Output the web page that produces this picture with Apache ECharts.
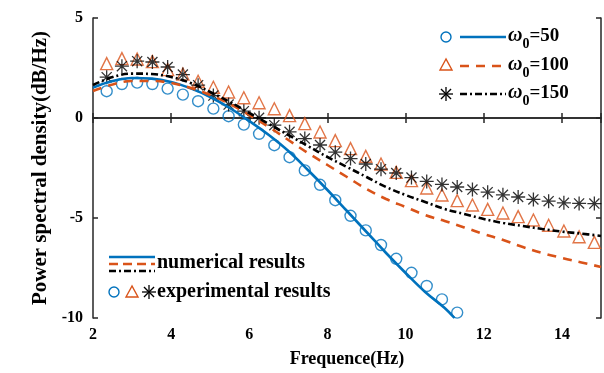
<!DOCTYPE html>
<html>
<head>
<meta charset="utf-8">
<title>Power spectral density</title>
<script src="https://cdn.jsdelivr.net/npm/echarts@6/dist/echarts.min.js"></script>
<style>
    html, body { margin: 0; padding: 0; background: #fff; }
    #main { width: 604px; height: 373px; }
</style>
</head>
<body>
<div id="main"></div>
<script type="text/javascript">
    // measured points (experimental), frequency in Hz
    var expX = [2.35, 2.74, 3.13, 3.52, 3.91, 4.30, 4.69, 5.08, 5.47, 5.86, 6.25, 6.64, 7.03, 7.42, 7.81, 8.20, 8.59,
                8.98, 9.37, 9.76, 10.15, 10.54, 10.93, 11.32, 11.71, 12.10, 12.49, 12.88, 13.27, 13.66, 14.05, 14.44, 14.83];
    var exp50 = [1.34, 1.70, 1.77, 1.70, 1.47, 1.17, 0.84, 0.47, 0.09, -0.33, -0.79, -1.36, -1.96, -2.62, -3.34, -4.11,
                 -4.89, -5.62, -6.35, -7.04, -7.74, -8.40, -9.07, -9.73];
    var exp100 = [2.72, 2.97, 2.95, 2.82, 2.42, 2.20, 1.84, 1.54, 1.30, 1.01, 0.76, 0.46, 0.12, -0.28, -0.70, -1.13,
                  -1.53, -1.92, -2.30, -2.72, -3.13, -3.50, -3.85, -4.13, -4.35, -4.57, -4.75, -4.93, -5.10, -5.36, -5.65, -5.94, -6.22];
    var exp150 = [2.04, 2.59, 2.84, 2.80, 2.55, 2.17, 1.64, 1.12, 0.67, 0.34, 0.01, -0.36, -0.69, -1.03, -1.35, -1.71,
                  -2.03, -2.30, -2.56, -2.75, -2.98, -3.17, -3.32, -3.45, -3.58, -3.71, -3.84, -3.95, -4.07, -4.16, -4.24, -4.27, -4.28];

    // numerical curves
    var numX = [2.0, 2.5, 3.0, 3.5, 4.0, 4.5, 5.0, 5.5, 6.0, 6.5, 7.0, 7.5, 8.0, 8.5, 9.0, 9.5, 10.0, 10.5, 11.0, 11.25];
    var num50 = [1.52, 1.85, 2.0, 1.97, 1.8, 1.48, 1.05, 0.5, -0.15, -0.85, -1.65, -2.6, -3.6, -4.65, -5.7, -6.75, -7.75, -8.7, -9.5, -10];
    var numX2 = [2.0, 2.5, 3.0, 3.5, 4.0, 4.5, 5.0, 5.5, 6.0, 6.5, 7.0, 7.5, 8.0, 8.5, 9.0, 9.5, 10.0, 10.5, 11.0, 11.5,
                 12.0, 12.5, 13.0, 13.5, 14.0, 14.5, 15.0];
    var num100 = [1.35, 1.68, 1.85, 1.85, 1.75, 1.5, 1.15, 0.7, 0.15, -0.45, -1.1, -1.75, -2.35, -2.95, -3.55, -4.05,
                  -4.45, -4.85, -5.15, -5.47, -5.8, -6.1, -6.45, -6.75, -7.0, -7.22, -7.45];
    var num150 = [1.65, 2.05, 2.22, 2.2, 2.05, 1.75, 1.3, 0.8, 0.25, -0.3, -0.85, -1.4, -1.95, -2.45, -2.95, -3.45,
                  -3.85, -4.2, -4.55, -4.8, -5.05, -5.25, -5.4, -5.55, -5.68, -5.78, -5.9];

    var xTicks = [2, 4, 6, 8, 10, 12, 14];
    var yTicks = [-10, -5, 0, 5];

    function pairs(xs, ys) {
        var out = [];
        for (var i = 0; i < ys.length; i++) {
            out.push([xs[i], ys[i]]);
        }
        return out;
    }

    var BLUE = '#0072BD', ORANGE = '#D95319', BLACK = '#000000';
    var FONT = '"Liberation Serif", "Times New Roman", serif';
    var STAR = 'path://M0,-1L0,1M-1,0L1,0M-0.72,-0.72L0.72,0.72M-0.72,0.72L0.72,-0.72';
    var axisColor = '#262626';

    // asterisk for the legend, made of 4 short lines
    function starLines(cx, cy, r) {
        var d = r * 0.72;
        var segs = [[0, -r, 0, r], [-r, 0, r, 0], [-d, -d, d, d], [-d, d, d, -d]];
        return segs.map(function (s) {
            return { type: 'line', shape: { x1: cx + s[0], y1: cy + s[1], x2: cx + s[2], y2: cy + s[3] },
                     style: { stroke: BLACK, lineWidth: 1.3 } };
        });
    }

    function omegaText(x, y, val) {
        return { type: 'text', x: x, y: y, style: {
            text: '{w|ω}{s|0}{t|=' + val + '}', verticalAlign: 'middle',
            rich: {
                w: { fontFamily: FONT, fontWeight: 'bold', fontStyle: 'italic', fontSize: 20 },
                s: { fontFamily: FONT, fontWeight: 'bold', fontSize: 14, padding: [17, 0, 0, 0] },
                t: { fontFamily: FONT, fontWeight: 'bold', fontSize: 19 }
            } } };
    }

    var myChart = echarts.init(document.getElementById('main'));

    var baseX = {
        type: 'value', min: 2, max: 15, interval: 2,
        axisLine: { lineStyle: { color: axisColor, width: 1.5 } },
        axisTick: { inside: true, length: 5, lineStyle: { color: axisColor, width: 1.5 } },
        splitLine: { show: false }
    };
    var baseY = {
        type: 'value', min: -10, max: 5, interval: 5,
        axisLine: { lineStyle: { color: axisColor, width: 1.5 } },
        axisTick: { inside: true, length: 5, lineStyle: { color: axisColor, width: 1.5 } },
        splitLine: { show: false }
    };

    var graphics = [
        // top right legend
        { type: 'circle', shape: { cx: 446, cy: 37, r: 5 }, style: { fill: 'none', stroke: BLUE, lineWidth: 1.4 } },
        { type: 'line', shape: { x1: 460, y1: 37, x2: 506, y2: 37 }, style: { stroke: BLUE, lineWidth: 2.6 } },
        omegaText(508, 36, '50'),
        { type: 'polygon', shape: { points: [[446, 59], [440, 70], [452, 70]] }, style: { fill: 'none', stroke: ORANGE, lineWidth: 1.4 } },
        { type: 'line', shape: { x1: 460, y1: 66, x2: 506, y2: 66 }, style: { stroke: ORANGE, lineWidth: 2.6, lineDash: [9, 7] } },
        omegaText(508, 65, '100'),
        { type: 'line', shape: { x1: 460, y1: 94, x2: 506, y2: 94 }, style: { stroke: BLACK, lineWidth: 2.6, lineDash: [7, 3, 2, 3] } },
        omegaText(508, 93, '150'),

        // bottom left legend
        { type: 'line', shape: { x1: 109, y1: 257, x2: 155, y2: 257 }, style: { stroke: BLUE, lineWidth: 2.6 } },
        { type: 'line', shape: { x1: 109, y1: 264, x2: 155, y2: 264 }, style: { stroke: ORANGE, lineWidth: 2.6, lineDash: [9, 5] } },
        { type: 'line', shape: { x1: 109, y1: 271, x2: 155, y2: 271 }, style: { stroke: BLACK, lineWidth: 2.6, lineDash: [7, 3, 2, 3] } },
        { type: 'text', x: 157, y: 263, style: { text: 'numerical results', fontFamily: FONT, fontWeight: 'bold', fontSize: 20, fill: '#000', verticalAlign: 'middle' } },
        { type: 'circle', shape: { cx: 114, cy: 292, r: 5 }, style: { fill: 'none', stroke: BLUE, lineWidth: 1.4 } },
        { type: 'polygon', shape: { points: [[132, 286], [126, 297], [138, 297]] }, style: { fill: 'none', stroke: ORANGE, lineWidth: 1.4 } },
        { type: 'text', x: 157, y: 292, style: { text: 'experimental results', fontFamily: FONT, fontWeight: 'bold', fontSize: 20, fill: '#000', verticalAlign: 'middle' } }
    ].concat(starLines(446, 94, 7), starLines(149, 292, 7));

    var option = {
        animation: false,
        grid: { left: 93, right: 3, top: 18, bottom: 55 },
        xAxis: [
            echarts.util.merge({
                position: 'bottom',
                name: 'Frequence(Hz)',
                nameLocation: 'middle',
                nameGap: 32,
                nameTextStyle: { fontFamily: FONT, fontWeight: 'bold', fontSize: 18, color: '#000' },
                axisLabel: {
                    fontFamily: FONT, fontWeight: 'bold', fontSize: 16, color: '#000', margin: 9,
                    formatter: function (v) { return xTicks.indexOf(v) >= 0 ? String(v) : ''; }
                }
            }, baseX, true),
            echarts.util.merge({ position: 'top', axisLabel: { show: false } }, baseX, true)
        ],
        yAxis: [
            echarts.util.merge({
                position: 'left',
                name: 'Power spectral density(dB/Hz)',
                nameLocation: 'middle',
                nameGap: 38,
                nameTextStyle: { fontFamily: FONT, fontWeight: 'bold', fontSize: 21, color: '#000' },
                axisLabel: {
                    fontFamily: FONT, fontWeight: 'bold', fontSize: 16, color: '#000', margin: 10,
                    formatter: function (v) { return yTicks.indexOf(v) >= 0 ? String(v) : ''; }
                }
            }, baseY, true),
            echarts.util.merge({ position: 'right', axisLabel: { show: false } }, baseY, true)
        ],
        series: [
            {
                name: 'num50', type: 'line', smooth: 0.4, showSymbol: false, clip: true,
                data: pairs(numX, num50),
                lineStyle: { color: BLUE, width: 2.6 }
            },
            {
                name: 'num100', type: 'line', smooth: 0.4, showSymbol: false, clip: true,
                data: pairs(numX2, num100),
                lineStyle: { color: ORANGE, width: 2.6, type: [9, 7] }
            },
            {
                name: 'num150', type: 'line', smooth: 0.4, showSymbol: false, clip: true,
                data: pairs(numX2, num150),
                lineStyle: { color: BLACK, width: 2.6, type: [7, 3, 2, 3] }
            },
            {
                name: 'exp50', type: 'scatter', symbol: 'circle', symbolSize: 11,
                data: pairs(expX, exp50),
                itemStyle: { color: 'rgba(0,0,0,0)', borderColor: BLUE, borderWidth: 1.4 }
            },
            {
                name: 'exp100', type: 'scatter', symbol: 'triangle', symbolSize: 12,
                data: pairs(expX, exp100),
                itemStyle: { color: 'rgba(0,0,0,0)', borderColor: ORANGE, borderWidth: 1.4 }
            },
            {
                name: 'exp150', type: 'scatter', symbol: STAR, symbolSize: 14,
                data: pairs(expX, exp150),
                itemStyle: { color: 'rgba(0,0,0,0)', borderColor: BLACK, borderWidth: 1.3 }
            }
        ],
        graphic: graphics
    };

    myChart.setOption(option);
</script>
</body>
</html>
